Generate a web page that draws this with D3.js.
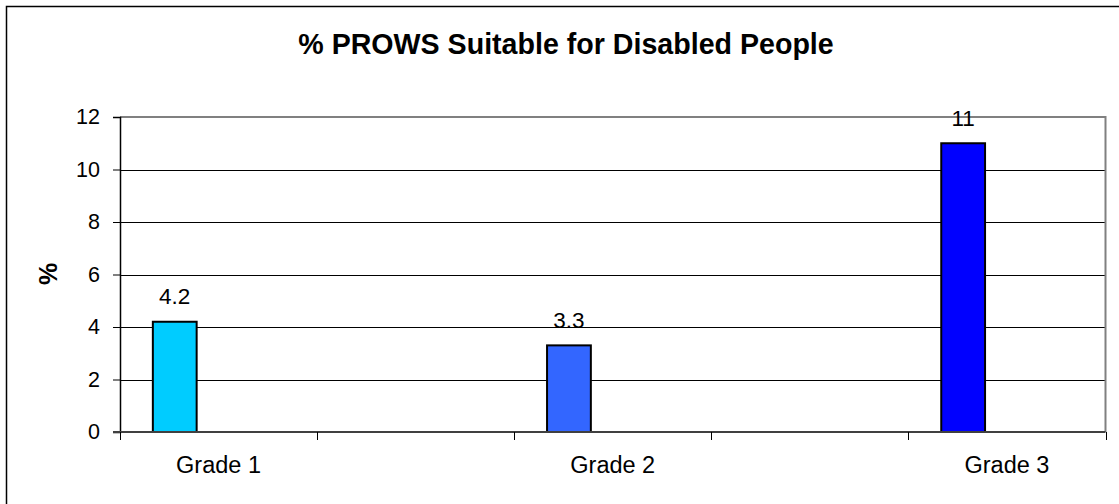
<!DOCTYPE html>
<html>
<head>
<meta charset="utf-8">
<script src="https://cdn.jsdelivr.net/npm/d3@7"></script>
<style>
  html, body { margin: 0; padding: 0; background: #fff; }
  svg { display: block; font-family: "Liberation Sans", Arial, sans-serif; }
</style>
</head>
<body>
<svg id="chart" width="1119" height="504"></svg>
<script>
// ---- data ----
const titleText = "% PROWS Suitable for Disabled People";
const yAxisTitle = "%";
const categories = ["Grade 1", "", "Grade 2", "", "Grade 3"];
const values = [4.2, null, 3.3, null, 11];
const valueLabels = ["4.2", "", "3.3", "", "11"];
const yTicks = [0, 2, 4, 6, 8, 10, 12];
const barColors = ["#00CCFF", null, "#3366FF", null, "#0000FF"];
const seriesSlots = [0, 1, 2];

// ---- layout ----
const svg = d3.select("#chart");
const plot = { left: 120, right: 1105.5, top: 117, bottom: 432 };

// outer chart border (right/bottom edges fall outside the picture)
svg.append("rect")
  .attr("x", 6.5).attr("y", 6.5)
  .attr("width", 1200).attr("height", 600)
  .attr("fill", "#fff").attr("stroke", "#000").attr("stroke-width", 1.5);

const x = d3.scaleBand().domain(d3.range(categories.length))
  .range([plot.left, plot.right]).paddingInner(0).paddingOuter(0);
const slot = d3.scaleBand().domain(seriesSlots)
  .range([0, x.bandwidth()]).paddingInner(0).paddingOuter(0.75);
const y = d3.scaleLinear().domain([0, 12]).range([plot.bottom, plot.top]);

// gridlines
svg.append("g").selectAll("line")
  .data(yTicks.filter(t => t > 0 && t < 12))
  .join("line")
  .attr("x1", plot.left).attr("x2", plot.right)
  .attr("y1", d => Math.round(y(d)) + 0.5).attr("y2", d => Math.round(y(d)) + 0.5)
  .attr("stroke", "#000").attr("stroke-width", 1);

// plot area border (top, right) gray
svg.append("path")
  .attr("d", `M${plot.left},${y(12)}H${plot.right}V${plot.bottom}`)
  .attr("fill", "none").attr("stroke", "#808080").attr("stroke-width", 2);

// bars
const bars = categories.map((c, i) => ({ i, v: values[i], color: barColors[i], label: valueLabels[i] }))
  .filter(d => d.v != null);

svg.append("g").selectAll("rect")
  .data(bars)
  .join("rect")
  .attr("x", d => x(d.i) + slot(0))
  .attr("y", d => y(d.v))
  .attr("width", slot.bandwidth())
  .attr("height", d => y(0) - y(d.v))
  .attr("fill", d => d.color)
  .attr("stroke", "#000").attr("stroke-width", 2);

// value labels
svg.append("g").selectAll("text")
  .data(bars)
  .join("text")
  .attr("x", d => x(d.i) + slot(0) + slot.bandwidth() / 2)
  .attr("y", d => y(d.v) - 17.5)
  .attr("text-anchor", "middle")
  .attr("font-size", 22.5)
  .attr("fill", "#000")
  .text(d => d.label);

// y axis
const yAxis = d3.axisLeft(y).tickValues(yTicks).tickSize(7).tickPadding(13).tickFormat(d3.format("d"));
const gy = svg.append("g").attr("transform", `translate(${plot.left},0)`).call(yAxis);
gy.select(".domain").attr("stroke", "#000").attr("stroke-width", 1.5);
gy.selectAll(".tick line").attr("stroke", "#000").attr("stroke-width", 1);
gy.selectAll(".tick text").attr("font-size", 21.5).attr("font-family", "'Liberation Sans', Arial, sans-serif").attr("fill", "#000");

// x axis: baseline, boundary ticks, labels
svg.append("line")
  .attr("x1", plot.left - 7).attr("x2", plot.right)
  .attr("y1", y(0)).attr("y2", y(0))
  .attr("stroke", "#404040").attr("stroke-width", 2);

const boundaries = d3.range(categories.length + 1).map(i => i < categories.length ? x(i) : x(i - 1) + x.bandwidth());
svg.append("g").selectAll("line")
  .data(boundaries)
  .join("line")
  .attr("x1", d => Math.round(d) + 0.5).attr("x2", d => Math.round(d) + 0.5)
  .attr("y1", y(0)).attr("y2", y(0) + 8)
  .attr("stroke", "#000").attr("stroke-width", 1);

svg.append("g").selectAll("text")
  .data(categories.map((c, i) => ({ c, i })).filter(d => d.c))
  .join("text")
  .attr("x", d => x(d.i) + x.bandwidth() / 2)
  .attr("y", 473)
  .attr("text-anchor", "middle")
  .attr("font-size", 23.5)
  .attr("fill", "#000")
  .text(d => d.c);

// y axis title
svg.append("text")
  .attr("transform", "translate(57,274) rotate(-90)")
  .attr("text-anchor", "middle")
  .attr("font-size", 25).attr("font-weight", "bold")
  .text(yAxisTitle);

// chart title
svg.append("text")
  .attr("x", 566).attr("y", 54)
  .attr("text-anchor", "middle")
  .attr("font-size", 28.6).attr("font-weight", "bold")
  .text(titleText);
</script>
</body>
</html>
